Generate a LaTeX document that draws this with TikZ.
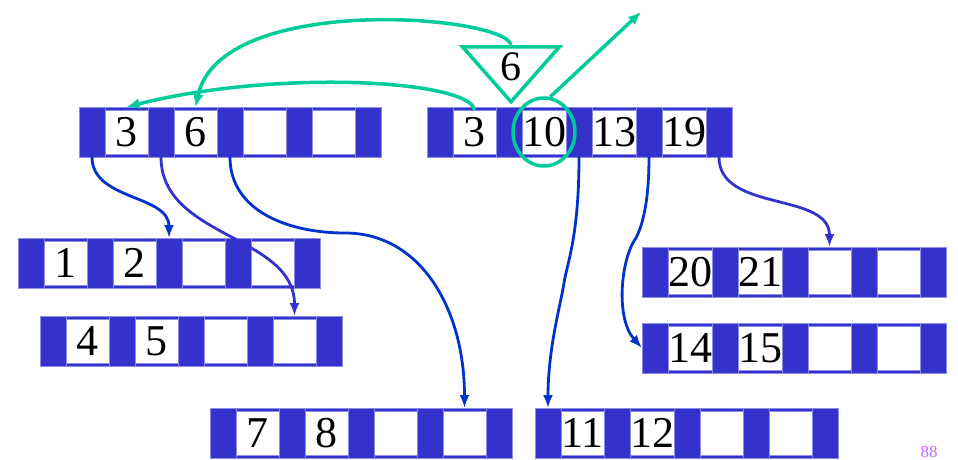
\documentclass[tikz,border=0pt]{standalone}
\usepackage{fontspec}
\setmainfont{Liberation Serif}
\usetikzlibrary{positioning}
\usetikzlibrary{shapes.geometric}
\usetikzlibrary{arrows.meta}
\newcommand{\bpage}[6]{%
	\node (#1) [pagebg, anchor=north west] at (#2) {};
	\node (#1-p0) [ptr, anchor=north west] at (#2) {};
	\node (#1-k1) [key, right=0pt of #1-p0] {#3};
	\node (#1-p1) [ptr, right=0pt of #1-k1] {};
	\node (#1-k2) [key, right=0pt of #1-p1] {#4};
	\node (#1-p2) [ptr, right=0pt of #1-k2] {};
	\node (#1-k3) [key, right=0pt of #1-p2] {#5};
	\node (#1-p3) [ptr, right=0pt of #1-k3] {};
	\node (#1-k4) [key, right=0pt of #1-p3] {#6};
	\node (#1-p4) [ptr, right=0pt of #1-k4] {};}
\definecolor{pageblue}{RGB}{51,51,204}
\definecolor{seam}{RGB}{140,140,235}
\definecolor{linkblue}{RGB}{0,51,204}
\definecolor{linkviolet}{RGB}{51,51,204}
\definecolor{hlgreen}{RGB}{0,204,153}
\definecolor{pnum}{RGB}{204,102,255}
\tikzstyle{pagebg} = [fill=pageblue, draw=seam, line width=0.8pt, minimum width=302, minimum height=50, inner sep=0pt, outer sep=0pt]
\tikzstyle{ptr} = [fill=pageblue, draw=seam, line width=0.8pt, minimum width=26, minimum height=50, inner sep=0pt, outer sep=0pt]
\tikzstyle{key} = [fill=white, draw=seam, line width=0.8pt, minimum width=43, minimum height=44, inner sep=0pt, outer sep=0pt, font=\fontsize{44}{44}\selectfont]
\tikzstyle{link} = [draw=linkblue, line width=2.8pt, -{Latex[length=13pt,width=10pt]}]
\tikzstyle{hl} = [draw=hlgreen, line width=3.5pt]
\tikzstyle{hllink} = [hl, -{Latex[length=13pt,width=11pt]}]
\tikzstyle{tri} = [hl, isosceles triangle, isosceles triangle stretches, shape border rotate=-90, fill=white, inner sep=0pt, minimum width=97, minimum height=55, font=\fontsize{42}{42}\selectfont]
\tikzstyle{ring} = [hl, ellipse, minimum width=62, minimum height=68]
\tikzstyle{pno} = [text=pnum, inner sep=0pt, font=\fontsize{17}{17}\selectfont]

\begin{document}
\begin{tikzpicture}[x=1pt, y=-1pt]
	\useasboundingbox (0,0) rectangle (958,460);
	% index level
	\bpage{lft}{79,107}{3}{6}{}{}
	\bpage{rgt}{427,107}{3}{10}{13}{19}
	% leaves
	\bpage{l12}{18,238}{1}{2}{}{}
	\bpage{l45}{40,316}{4}{5}{}{}
	\bpage{l78}{210,408}{7}{8}{}{}
	\bpage{l1112}{535,408}{11}{12}{}{}
	\bpage{l2021}{642,247}{20}{21}{}{}
	\bpage{l1415}{642,323}{14}{15}{}{}

	\draw[link] (lft-p0.south) to[out=-90, in=90] (l12-p2.north);
	\draw[link, draw=linkviolet] (lft-p1.south) to[out=-90, in=90] (l45-k4.north |- l45-p0.north);
	\draw[link] (lft-p2.south) .. controls +(0,55) and +(-55,0) .. ++(115,76)
		.. controls +(75,0) and +(0,-100) .. (l78-k4.north |- l78-p0.north);
	\draw[link] (rgt-p2.south) .. controls +(0,80) and +(3,-20) .. ++(-15,126)
		.. controls +(-3,20) and +(0,-60) .. (l1112-p0.north);
	\draw[link] (rgt-p3.south) .. controls +(0,50) and +(5,-10) .. ++(-13,81)
		.. controls +(-15,20) and +(-27,-30) .. (l1415-p0.west);
	\draw[link, draw=linkviolet] (rgt-p4.south) to[out=-90, in=90] (l2021-k3.north |- l2021-p0.north);

	% the insert of 6
	\node (ins) [tri, anchor=north] at (511,45) {6};
	\node (ring) [ring] at (rgt-k2) {};
	\coordinate (up) at (641,12);
	\draw[hllink] (rgt-k1.north) .. controls +(-5,-30) and +(150,-38) .. (lft-k1.north |- lft-p0.north);
	\draw[hllink] (ins.north) .. controls +(-6,-30) and +(25,-115) .. (lft-k2.north |- lft-p0.north);
	\draw[hllink] (ring.80) -- (up);

	\node (page) [pno, anchor=north] at (929,446) {88};
\end{tikzpicture}
\end{document}
